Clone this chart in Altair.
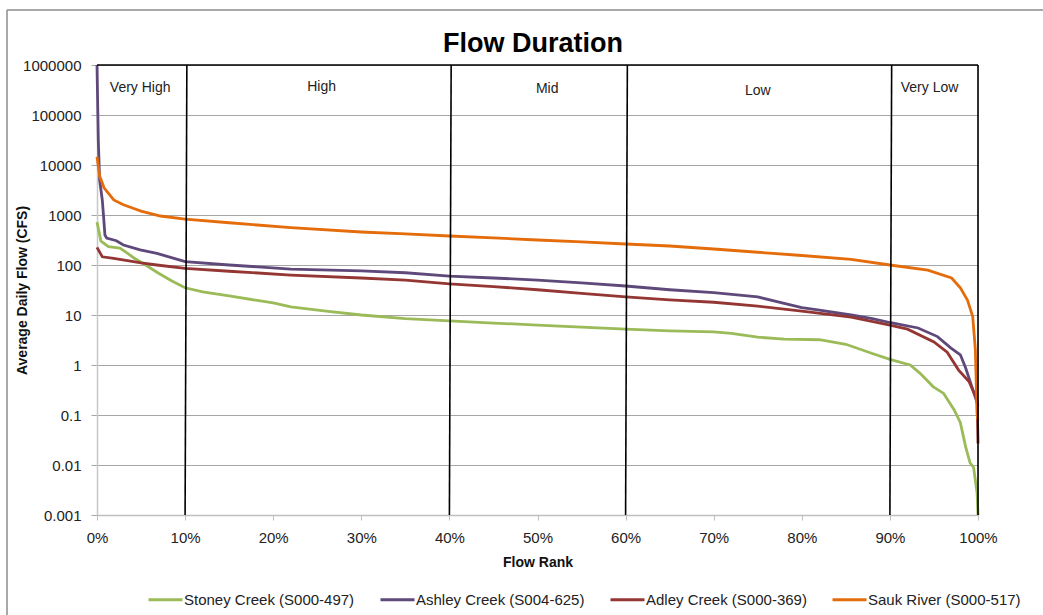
import altair as alt
import pandas as pd

FONT = "Liberation Sans"

chart_title = "Flow Duration"
series_names = [
    "Stoney Creek (S000-497)",
    "Ashley Creek (S004-625)",
    "Adley Creek (S000-369)",
    "Sauk River (S000-517)",
]
series_colors = ["#9BBB59", "#5F497A", "#943634", "#E46C0A"]

# Flow rank (percent) and average daily flow (CFS)
stoney_rank = [0, 0.45, 1.3, 2.6, 3.4, 4.2, 4.9, 5.6, 6.9, 8.5, 10, 12, 15, 20, 22, 26, 30, 35, 40,
               45, 50, 55, 60, 65, 70, 72, 75, 78, 82, 85, 88, 90, 92.3, 93.4, 94.9, 96.1, 97.3, 98,
               98.6, 99.1, 99.5, 99.9, 100]
stoney_flow = [720, 300, 232, 218, 174, 138, 117, 98, 70, 48, 35, 29, 24, 17.4, 14.6, 12, 10, 8.5,
               7.6, 6.9, 6.3, 5.7, 5.2, 4.8, 4.6, 4.3, 3.6, 3.3, 3.2, 2.6, 1.7, 1.3, 1.0, 0.69,
               0.37, 0.27, 0.126, 0.07, 0.023, 0.011, 0.009, 0.0027, 0.001]

ashley_rank = [0, 0.15, 0.3, 0.6, 0.75, 0.9, 1.1, 2.2, 3, 4.9, 6.8, 10, 15, 22, 30, 35, 40, 45, 50,
               55, 60, 65, 70, 75, 78, 80, 82, 85.6, 88, 90.1, 93.2, 95.4, 96.9, 98, 98.6, 99.3,
               99.8, 100]
ashley_flow = [1000000, 30000, 5000, 2000, 920, 398, 346, 306, 251, 200, 171, 117, 100, 83, 76, 70,
               60, 55, 50, 44, 38, 32, 28, 23, 17, 14, 12.5, 10, 8.5, 7.0, 5.5, 3.7, 2.2, 1.6,
               0.87, 0.37, 0.2, 0.15]

adley_rank = [0, 0.6, 1.9, 5, 6.8, 10, 15, 22, 30, 35, 40, 45, 50, 55, 60, 65, 70, 75, 80, 85.6,
              90, 92, 95, 96.5, 97.8, 99, 99.9, 100]
adley_flow = [225, 146, 136, 110, 100, 86, 75, 63, 55, 50, 42, 37, 32, 27, 23, 20, 18, 15, 12, 9.1,
              6.3, 5.2, 2.9, 1.8, 0.79, 0.46, 0.2, 0.027]

sauk_rank = [0, 0.3, 0.8, 1.9, 3, 4.1, 5, 7.2, 10, 15, 22, 30, 35, 40, 45, 50, 55, 60, 65, 70, 75,
             80, 85.6, 90, 94.3, 97, 98, 98.8, 99.4, 99.7, 99.9, 100]
sauk_flow = [14600, 6000, 3500, 2000, 1600, 1365, 1200, 955, 830, 700, 557, 457, 420, 380, 350,
             316, 290, 263, 240, 209, 180, 155, 130, 100, 79, 55, 35, 20, 9.3, 2, 0.1, 0.08]

zone_bounds = [10, 40, 60, 90, 100]
zone_tilt = [0.2, 0.2, 0.2, 0.2, 0]
zone_names = ["Very High", "High", "Mid", "Low", "Very Low"]
zone_label_x = [4.9, 25.5, 51.1, 75, 94.5]
zone_label_y = [346000, 363000, 324000, 302000, 346000]

y_ticks = [0.001, 0.01, 0.1, 1, 10, 100, 1000, 10000, 100000, 1000000]
x_ticks = [0, 0.1, 0.2, 0.3, 0.4, 0.5, 0.6, 0.7, 0.8, 0.9, 1.0]

rows = []
for name, ranks, flows in [
    (series_names[0], stoney_rank, stoney_flow),
    (series_names[1], ashley_rank, ashley_flow),
    (series_names[2], adley_rank, adley_flow),
    (series_names[3], sauk_rank, sauk_flow),
]:
    for r, f in zip(ranks, flows):
        rows.append({"series": name, "rank": r / 100.0, "flow": f})
df = pd.DataFrame(rows)

zones_df = pd.DataFrame({
    "x_top": [(b + t) / 100.0 for b, t in zip(zone_bounds, zone_tilt)],
    "x_bot": [b / 100.0 for b in zone_bounds],
    "y_top": [1000000] * len(zone_bounds),
    "y_bot": [0.001] * len(zone_bounds),
})
labels_df = pd.DataFrame({
    "name": zone_names,
    "x": [v / 100.0 for v in zone_label_x],
    "y": zone_label_y,
})
top_df = pd.DataFrame({"x": [0.0], "x2": [1.0], "y": [1000000]})
dummy = pd.DataFrame({"a": [0]})
title_df = pd.DataFrame({"t": [chart_title]})

x_scale = alt.Scale(domain=[0, 1], nice=False, zero=False)
y_scale = alt.Scale(type="log", domain=[0.001, 1000000], nice=False)

x_axis = alt.Axis(
    title="Flow Rank", values=x_ticks, format=".0%", grid=False,
    domainColor="#bfbfbf", domainWidth=1.5, tickColor="#bfbfbf", tickSize=5,
    labelFont=FONT, labelFontSize=15, labelColor="#222222", labelPadding=10,
    labelOverlap=False, labelFlush=False, titleFont=FONT, titleFontSize=14,
    titleFontWeight="bold", titleColor="#111111", titleY=47, titleBaseline="middle",
)
y_axis = alt.Axis(
    title="Average Daily Flow (CFS)", values=y_ticks,
    labelExpr="datum.value >= 1 ? format(datum.value, 'd') : format(datum.value, '.3~f')",
    grid=True, gridColor="#a6a6a6", gridWidth=1.2,
    domainColor="#c8c8c8", domainWidth=1.5, tickColor="#a6a6a6", tickSize=6,
    labelFont=FONT, labelFontSize=15, labelColor="#222222", labelPadding=10,
    labelOverlap=False, labelFlush=False, titleFont=FONT, titleFontSize=14,
    titleFontWeight="bold", titleColor="#111111", titleX=-75, titleY=225,
    titleAngle=270, titleAlign="center", titleBaseline="middle",
)

lines = alt.Chart(df).mark_line(strokeWidth=2.8).encode(
    x=alt.X("rank:Q", scale=x_scale, axis=x_axis),
    y=alt.Y("flow:Q", scale=y_scale, axis=y_axis),
    color=alt.Color(
        "series:N",
        scale=alt.Scale(domain=series_names, range=series_colors),
        sort=series_names,
        legend=alt.Legend(
            title=None, orient="none", legendX=50, legendY=516,
            direction="horizontal", columns=4, symbolType="stroke",
            symbolStrokeWidth=3, symbolSize=1156, labelFont=FONT,
            labelFontSize=15, labelColor="#222222", columnPadding=19,
            labelOffset=0, labelLimit=400,
        ),
    ),
    order=alt.Order("rank:Q"),
)

zone_rules = alt.Chart(zones_df).mark_rule(color="#000000", strokeWidth=1.6).encode(
    x=alt.X("x_top:Q", scale=x_scale),
    x2="x_bot:Q",
    y=alt.Y("y_top:Q", scale=y_scale),
    y2="y_bot:Q",
)

top_rule = alt.Chart(top_df).mark_rule(color="#000000", strokeWidth=1.4).encode(
    x=alt.X("x:Q", scale=x_scale),
    x2="x2:Q",
    y=alt.Y("y:Q", scale=y_scale),
)

zone_text = alt.Chart(labels_df).mark_text(
    font=FONT, fontSize=14, color="#222222", baseline="middle", align="center"
).encode(
    x=alt.X("x:Q", scale=x_scale),
    y=alt.Y("y:Q", scale=y_scale),
    text="name:N",
)

title_text = alt.Chart(title_df).mark_text(
    font=FONT, fontSize=27, fontWeight="bold", color="#000000",
    baseline="alphabetic", align="center",
).encode(
    x=alt.value(436),
    y=alt.value(-13),
    text="t:N",
)

frame_left = alt.Chart(dummy).mark_rule(color="#8c8c8c", strokeWidth=1.5).encode(
    x=alt.value(-90), y=alt.value(-55), y2=alt.value(600)
)
frame_top = alt.Chart(dummy).mark_rule(color="#8c8c8c", strokeWidth=1.5).encode(
    x=alt.value(-90), x2=alt.value(1000), y=alt.value(-55)
)

chart = alt.layer(
    frame_left, frame_top, lines, zone_rules, top_rule, zone_text, title_text
).properties(
    width=881,
    height=450,
    autosize=alt.AutoSizeParams(type="none"),
    padding={"left": 97, "top": 65, "right": 65, "bottom": 100},
).configure_view(stroke=None).configure(background="#ffffff")

chart.save("out.html", embed_options={"renderer": "svg", "actions": False})
